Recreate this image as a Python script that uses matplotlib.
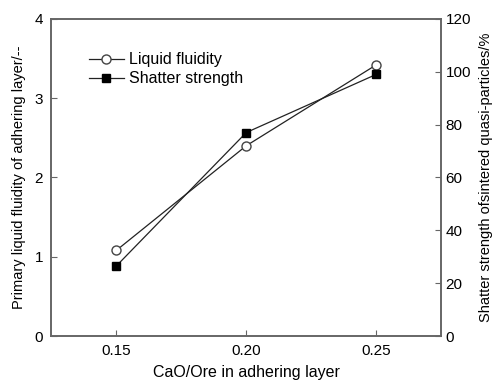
import matplotlib
matplotlib.use("Agg")
import matplotlib.pyplot as plt

plt.rcParams['font.family'] = ['Liberation Sans', 'DejaVu Sans']

cao_ore = [0.15, 0.20, 0.25]
liquid_fluidity = [1.08, 2.40, 3.42]
shatter_strength = [26.5, 77.0, 99.0]
x_ticks = [0.15, 0.20, 0.25]

fig, ax = plt.subplots(figsize=(4.93, 3.85), dpi=100)
fig.subplots_adjust(left=0.104, right=0.895, top=0.951, bottom=0.127)
ax2 = ax.twinx()

col = '#222222'
l1, = ax.plot(cao_ore, liquid_fluidity, '-o', color=col, lw=0.9,
              mfc='white', mec='#444444', ms=6.5, label='Liquid fluidity')
l2, = ax2.plot(cao_ore, shatter_strength, '-s', color=col, lw=0.9,
               mfc='black', mec='black', ms=6, label='Shatter strength')

ax.set_xlim(0.125, 0.275)
ax.set_ylim(0, 4)
ax2.set_ylim(0, 120)
ax.set_xticks(x_ticks)
ax.set_xticklabels(['0.15', '0.20', '0.25'])
ax.set_yticks([0, 1, 2, 3, 4])
ax2.set_yticks([0, 20, 40, 60, 80, 100, 120])

for a in (ax, ax2):
    for s in a.spines.values():
        s.set_color('#666666')
        s.set_linewidth(1.2)
ax.tick_params(direction='in', length=4, color='#666666', labelsize=11, pad=6)
ax2.tick_params(direction='in', length=4, color='#666666', labelsize=11, pad=3)

ax.set_xlabel('CaO/Ore in adhering layer', fontsize=11.5, labelpad=5)
ax.set_ylabel('Primary liquid fluidity of adhering layer/--', fontsize=10.5, labelpad=6)
ax2.set_ylabel('Shatter strength ofsintered quasi-particles/%', fontsize=10.5, labelpad=6)

ax.legend(handles=[l1, l2], loc='upper left', bbox_to_anchor=(0.08, 0.915),
          frameon=False, fontsize=11.5, handlelength=2.2, handletextpad=0.3,
          labelspacing=0.25, borderaxespad=0)

fig.savefig('out.png', dpi=100)
